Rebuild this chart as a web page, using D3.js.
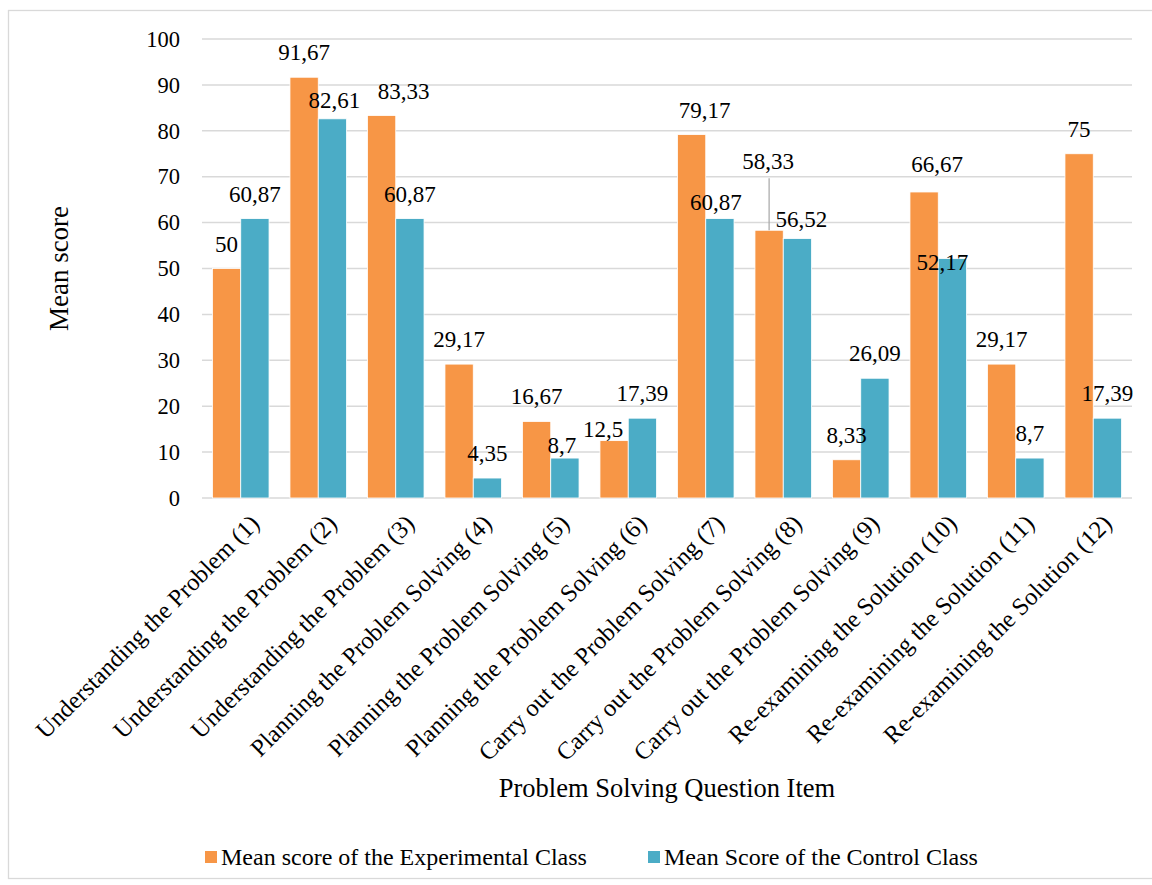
<!DOCTYPE html>
<html>
<head>
<meta charset="utf-8">
<script src="https://cdn.jsdelivr.net/npm/d3@7"></script>
<style>
  body { margin: 0; background: #fff; }
  svg text { font-family: "Liberation Serif", "DejaVu Serif", serif !important; fill: #000; }
</style>
</head>
<body>
<div id="chart"></div>
<script>
// data
var categories = [
  "Understanding the Problem (1)",
  "Understanding the Problem (2)",
  "Understanding the Problem (3)",
  "Planning the Problem Solving (4)",
  "Planning the Problem Solving (5)",
  "Planning the Problem Solving (6)",
  "Carry out the Problem Solving (7)",
  "Carry out the Problem Solving (8)",
  "Carry out the Problem Solving (9)",
  "Re-examining the Solution (10)",
  "Re-examining the Solution (11)",
  "Re-examining the Solution (12)"
];
var experimental = [50, 91.67, 83.33, 29.17, 16.67, 12.5, 79.17, 58.33, 8.33, 66.67, 29.17, 75];
var control = [60.87, 82.61, 60.87, 4.35, 8.7, 17.39, 60.87, 56.52, 26.09, 52.17, 8.7, 17.39];
var seriesNames = ["Mean score of the Experimental Class", "Mean Score of the Control Class"];
var yTicks = [0, 10, 20, 30, 40, 50, 60, 70, 80, 90, 100];

var colors = ["#F79646", "#4BACC6"];
var serif = "'Liberation Serif', 'DejaVu Serif', serif";

// manual label moves (like the dragged labels in the original)
var labelNudge = [
  {2: [22, 0], 5: [-11, 13], 6: [13, 0], 7: [-1, -44], 9: [13, -3]},
  {1: [2, 6], 4: [-3, 12], 6: [-4, 8], 7: [4, 5], 9: [-10, 28]}
];

var svgWidth = 1152;
var svgHeight = 885;

var margin = {top: 39, right: 20, bottom: 387, left: 202};
var width = 1132 - margin.left;
var height = 498 - margin.top;

var svg = d3.select("#chart")
  .append("svg")
  .attr("width", svgWidth)
  .attr("height", svgHeight);

// outer frame
svg.append("rect")
  .attr("x", 8.5).attr("y", 10.5)
  .attr("width", 1160).attr("height", 868)
  .attr("fill", "none")
  .attr("stroke", "#d9d9d9")
  .attr("stroke-width", 1.3);

var chartGroup = svg.append("g")
  .attr("transform", `translate(${margin.left}, ${margin.top})`);

var x0 = d3.scaleBand()
  .domain(categories)
  .range([0, width])
  .padding(0);

var x1 = d3.scaleBand()
  .domain([0, 1])
  .range([x0.bandwidth() * 0.135, x0.bandwidth() * 0.865]);

var y = d3.scaleLinear()
  .domain([0, 100])
  .range([height, 0]);

// gridlines
chartGroup.append("g")
  .selectAll("line")
  .data(yTicks)
  .enter()
  .append("line")
  .attr("x1", 0)
  .attr("x2", width)
  .attr("y1", d => y(d))
  .attr("y2", d => y(d))
  .attr("stroke", "#d9d9d9")
  .attr("stroke-width", 1.5);

// y axis labels
var leftAxis = d3.axisLeft(y).tickValues(yTicks).tickSize(0).tickPadding(22);
var yAxisG = chartGroup.append("g")
  .call(leftAxis)
  .attr("font-family", serif)
  .attr("font-size", 22);
yAxisG.select(".domain").remove();
yAxisG.selectAll("text")
  .style("font-family", serif)
  .style("font-size", "22.5px")
  .attr("fill", "#000");

var seriesData = [experimental, control];

// bars
seriesData.forEach(function(vals, s) {
  chartGroup.append("g")
    .selectAll("rect")
    .data(vals)
    .enter()
    .append("rect")
    .attr("x", (d, i) => x0(categories[i]) + x1(s))
    .attr("y", d => y(d))
    .attr("width", x1.bandwidth())
    .attr("height", d => height - y(d))
    .attr("fill", colors[s])
    .attr("stroke", "#fff")
    .attr("stroke-width", 0.8);
});

// leader line for the raised 58,33 label
var li = 7;
chartGroup.append("line")
  .attr("x1", x0(categories[li]) + x1(0) + x1.bandwidth() / 2)
  .attr("x2", x0(categories[li]) + x1(0) + x1.bandwidth() / 2)
  .attr("y1", y(experimental[li]) - 17 + labelNudge[0][li][1] + 9)
  .attr("y2", y(experimental[li]))
  .attr("stroke", "#a6a6a6")
  .attr("stroke-width", 1.2);

// data labels
seriesData.forEach(function(vals, s) {
  chartGroup.append("g")
    .selectAll("text")
    .data(vals)
    .enter()
    .append("text")
    .attr("x", function(d, i) {
      var n = labelNudge[s][i] || [0, 0];
      return x0(categories[i]) + x1(s) + x1.bandwidth() / 2 + n[0];
    })
    .attr("y", function(d, i) {
      var n = labelNudge[s][i] || [0, 0];
      return y(d) - 17 + n[1];
    })
    .attr("text-anchor", "middle")
    .style("font-family", serif)
    .style("font-size", "23px")
    .text(d => String(d).replace(".", ","));
});

// x axis category labels, rotated
chartGroup.append("g")
  .selectAll("text")
  .data(categories)
  .enter()
  .append("text")
  .attr("transform", d => `translate(${x0(d) + x0.bandwidth() / 2 + 7}, ${height + 14}) rotate(-45)`)
  .attr("text-anchor", "end")
  .attr("dy", "0.75em")
  .style("font-family", serif)
  .style("font-size", "24.5px")
  .text(d => d);

// axis titles
svg.append("text")
  .attr("transform", `translate(68, ${(margin.top + 498) / 2}) rotate(-90)`)
  .attr("text-anchor", "middle")
  .style("font-family", serif)
  .style("font-size", "27px")
  .text("Mean score");

svg.append("text")
  .attr("x", 667)
  .attr("y", 797)
  .attr("text-anchor", "middle")
  .style("font-family", serif)
  .style("font-size", "26.5px")
  .text("Problem Solving Question Item");

// legend
var legendX = [205, 648];
var legend = svg.append("g");
seriesNames.forEach(function(name, s) {
  legend.append("rect")
    .attr("x", legendX[s])
    .attr("y", 851)
    .attr("width", 12)
    .attr("height", 12)
    .attr("fill", colors[s]);
  legend.append("text")
    .attr("x", legendX[s] + 16)
    .attr("y", 865)
    .style("font-family", serif)
    .style("font-size", "24px")
    .text(name);
});
</script>
</body>
</html>
